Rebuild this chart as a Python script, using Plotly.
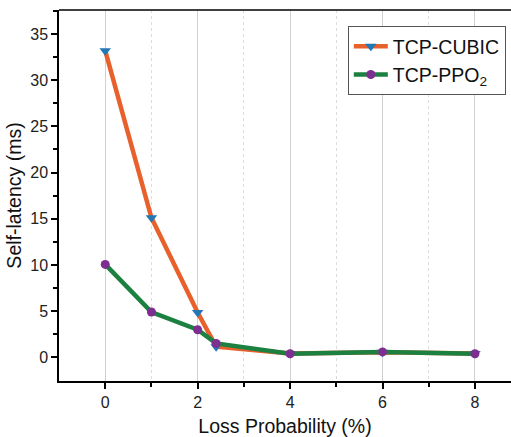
import plotly.graph_objects as go

loss = [0, 1, 2, 2.4, 4, 6, 8]
cubic = [33.2, 15.1, 4.85, 1.15, 0.4, 0.55, 0.4]
ppo = [10.05, 4.9, 2.98, 1.5, 0.38, 0.58, 0.38]

font = "Liberation Sans, Arial, sans-serif"

fig = go.Figure()
fig.add_trace(go.Scatter(x=loss, y=cubic, mode="lines+markers", name="TCP-CUBIC",
                         line=dict(color="#E8612C", width=4.5),
                         marker=dict(symbol="triangle-down", size=10, color="#2277B4")))
fig.add_trace(go.Scatter(x=loss, y=ppo, mode="lines+markers", name="TCP-PPO<sub>2</sub>",
                         line=dict(color="#1C8040", width=4.5),
                         marker=dict(symbol="circle", size=9, color="#7D2E91")))

fig.update_layout(
    width=511, height=437,
    margin=dict(l=59, r=0, t=10, b=56, autoexpand=False),
    plot_bgcolor="white", paper_bgcolor="white",
    font=dict(family=font, color="#222", size=16),
    showlegend=True,
    legend=dict(x=0.639, y=0.957, xanchor="left", yanchor="top",
                bordercolor="#555", borderwidth=1, bgcolor="white",
                font=dict(size=19.5, color="#111"), tracegroupgap=0,
                itemwidth=34),
)
fig.update_xaxes(
    range=[-1, 8.78], tickvals=[0, 2, 4, 6, 8], automargin=False,
    showline=True, linecolor="black", linewidth=1.5, mirror=False,
    ticks="outside", ticklen=6, tickwidth=1.5, tickcolor="black",
    showgrid=True, gridcolor="#d0d0d0", gridwidth=1.2,
    minor=dict(tickvals=[1, 3, 5, 7], ticks="outside", ticklen=4, tickcolor="black",
               showgrid=True, gridcolor="#dcdcdc", griddash="dot", gridwidth=1),
    zeroline=False,
    title=dict(text="Loss Probability (%)", font=dict(size=19.5, color="#111"), standoff=11),
    tickfont=dict(size=16, color="#222"),
)
fig.update_yaxes(
    range=[-2.57, 37.6], tickvals=[0, 5, 10, 15, 20, 25, 30, 35], automargin=False,
    showline=True, linecolor="black", linewidth=1.5,
    ticks="outside", ticklen=6, tickwidth=1.5, tickcolor="black",
    showgrid=False, zeroline=False,
    minor=dict(tickvals=[2.5, 7.5, 12.5, 17.5, 22.5, 27.5, 32.5, 37.5],
               ticks="outside", ticklen=4, tickcolor="black"),
    title=dict(text="Self-latency (ms)", font=dict(size=19.5, color="#111"), standoff=3),
    tickfont=dict(size=16, color="#222"),
)
# top border line
fig.add_shape(type="line", xref="paper", yref="paper", x0=0, x1=1, y0=1, y1=1,
              line=dict(color="black", width=1.5))

fig.write_html("out.html")
